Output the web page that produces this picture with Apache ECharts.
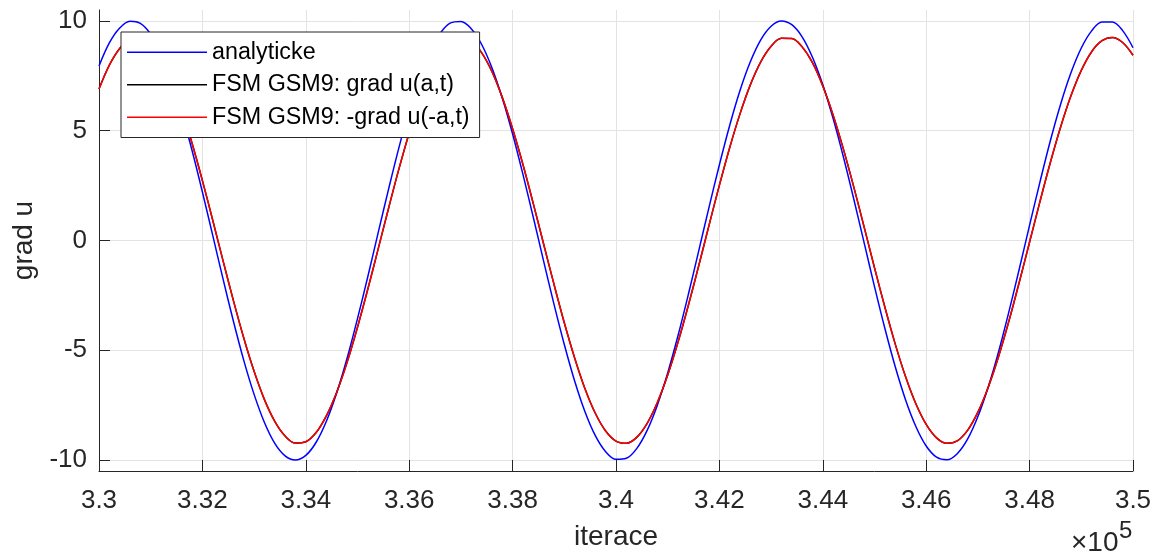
<!DOCTYPE html>
<html>
<head>
<meta charset="utf-8">
<script src="https://cdn.jsdelivr.net/npm/echarts@6/dist/echarts.min.js"></script>
<style>
  html, body { margin: 0; padding: 0; background: #fff; }
  #chart { width: 1158px; height: 556px; }
</style>
</head>
<body>
<div id="chart"></div>
<script>
// iterace (krok 200)
const iterace = [330000, 330200, 330400, 330600, 330800, 331000, 331200, 331400, 331600, 331800,
  332000, 332200, 332400, 332600, 332800, 333000, 333200, 333400, 333600, 333800,
  334000, 334200, 334400, 334600, 334800, 335000, 335200, 335400, 335600, 335800,
  336000, 336200, 336400, 336600, 336800, 337000, 337200, 337400, 337600, 337800,
  338000, 338200, 338400, 338600, 338800, 339000, 339200, 339400, 339600, 339800,
  340000, 340200, 340400, 340600, 340800, 341000, 341200, 341400, 341600, 341800,
  342000, 342200, 342400, 342600, 342800, 343000, 343200, 343400, 343600, 343800,
  344000, 344200, 344400, 344600, 344800, 345000, 345200, 345400, 345600, 345800,
  346000, 346200, 346400, 346600, 346800, 347000, 347200, 347400, 347600, 347800,
  348000, 348200, 348400, 348600, 348800, 349000, 349200, 349400, 349600, 349800, 350000];

// analyticke reseni
const analyticke = [7.95, 9.00, 9.68, 9.99, 9.89, 9.40, 8.54, 7.33, 5.83, 4.10,
  2.21, 0.23, -1.76, -3.68, -5.46, -7.01, -8.29, -9.24, -9.81, -10.00,
  -9.79, -9.19, -8.22, -6.92, -5.35, -3.56, -1.64, 0.36, 2.33, 4.22,
  5.94, 7.42, 8.60, 9.44, 9.91, 9.98, 9.65, 8.94, 7.87, 6.49,
  4.85, 3.01, 1.06, -0.94, -2.90, -4.74, -6.40, -7.80, -8.89, -9.62,
  -9.97, -9.92, -9.48, -8.66, -7.50, -6.03, -4.33, -2.45, -0.47, 1.52,
  3.45, 5.25, 6.84, 8.15, 9.14, 9.76, 10.00, 9.83, 9.28, 8.35,
  7.10, 5.55, 3.79, 1.88, -0.11, -2.10, -4.00, -5.74, -7.25, -8.47,
  -9.36, -9.87, -9.99, -9.71, -9.05, -8.02, -6.67, -5.06, -3.24, -1.30,
  0.70, 2.66, 4.53, 6.21, 7.64, 8.77, 9.55, 9.95, 9.95, 9.56, 8.78];

// FSM GSM9: grad u(a,t)
const gradPlus = [6.90, 7.99, 8.75, 9.17, 9.23, 8.91, 8.24, 7.24, 5.96, 4.43,
  2.73, 0.92, -0.93, -2.74, -4.44, -5.96, -7.25, -8.24, -8.91, -9.23,
  -9.17, -8.75, -7.98, -6.90, -5.54, -3.95, -2.21, -0.38, 1.46, 3.25,
  4.90, 6.36, 7.57, 8.48, 9.04, 9.25, 9.09, 8.56, 7.70, 6.52,
  5.09, 3.46, 1.68, -0.16, -1.99, -3.75, -5.35, -6.75, -7.87, -8.68,
  -9.14, -9.24, -8.97, -8.34, -7.38, -6.13, -4.63, -2.95, -1.15, 0.70,
  2.52, 4.24, 5.78, 7.10, 8.14, 8.85, 9.21, 9.20, 8.82, 8.10,
  7.04, 5.71, 4.15, 2.43, 0.61, -1.24, -3.03, -4.71, -6.20, -7.44,
  -8.38, -8.99, -9.24, -9.13, -8.65, -7.82, -6.68, -5.28, -3.67, -1.90,
  -0.07, 1.77, 3.54, 5.17, 6.59, 7.75, 8.60, 9.10, 9.25, 9.02, 8.44];

// FSM GSM9: -grad u(-a,t)  (kryje se s predchozi krivkou)
const gradMinus = [6.90, 7.99, 8.75, 9.17, 9.23, 8.91, 8.24, 7.24, 5.96, 4.43,
  2.73, 0.92, -0.93, -2.74, -4.44, -5.96, -7.25, -8.24, -8.91, -9.23,
  -9.17, -8.75, -7.98, -6.90, -5.54, -3.95, -2.21, -0.38, 1.46, 3.25,
  4.90, 6.36, 7.57, 8.48, 9.04, 9.25, 9.09, 8.56, 7.70, 6.52,
  5.09, 3.46, 1.68, -0.16, -1.99, -3.75, -5.35, -6.75, -7.87, -8.68,
  -9.14, -9.24, -8.97, -8.34, -7.38, -6.13, -4.63, -2.95, -1.15, 0.70,
  2.52, 4.24, 5.78, 7.10, 8.14, 8.85, 9.21, 9.20, 8.82, 8.10,
  7.04, 5.71, 4.15, 2.43, 0.61, -1.24, -3.03, -4.71, -6.20, -7.44,
  -8.38, -8.99, -9.24, -9.13, -8.65, -7.82, -6.68, -5.28, -3.67, -1.90,
  -0.07, 1.77, 3.54, 5.17, 6.59, 7.75, 8.60, 9.10, 9.25, 9.02, 8.44];

const xTicks = [330000, 332000, 334000, 336000, 338000, 340000, 342000, 344000, 346000, 348000, 350000];
const yTicks = [-10, -5, 0, 5, 10];
const names = ['analyticke', 'FSM GSM9: grad u(a,t)', 'FSM GSM9: -grad u(-a,t)'];

const font = "'Liberation Sans', Arial, Helvetica, sans-serif";
const axisColor = '#262626';
const gridColor = '#e3e3e3';

function pairs(ys) {
  return iterace.map((x, i) => [x, ys[i]]);
}

function lineSeries(name, ys, color) {
  return {
    name: name,
    type: 'line',
    data: pairs(ys),
    smooth: 0.35,
    symbol: 'none',
    sampling: 'none',
    lineStyle: { color: color, width: 1.5 },
    itemStyle: { color: color },
  };
}

const chart = echarts.init(document.getElementById('chart'));
chart.setOption({
  animation: false,
  backgroundColor: '#fff',
  textStyle: { fontFamily: font },
  grid: { left: 99, right: 25, top: 10, bottom: 84, containLabel: false },
  legend: {
    orient: 'vertical',
    left: 121,
    top: 32,
    data: names.map((n) => ({ name: n, icon: 'rect' })),
    itemWidth: 80,
    itemHeight: 1.5,
    itemGap: 0,
    padding: [4, 10, 4, 6],
    backgroundColor: '#fff',
    borderColor: axisColor,
    borderWidth: 1,
    borderRadius: 0,
    textStyle: { fontFamily: font, fontSize: 23.3, color: '#000', lineHeight: 27.5, padding: [5, 0, 0, 0] },
  },
  xAxis: {
    type: 'value',
    min: 330000,
    max: 350000,
    name: 'iterace',
    nameLocation: 'middle',
    nameGap: 52,
    nameTextStyle: { fontFamily: font, fontSize: 28, color: axisColor },
    axisLine: { onZero: false, lineStyle: { color: axisColor, width: 1 } },
    axisTick: { inside: true, length: 11, customValues: xTicks, lineStyle: { color: axisColor } },
    axisLabel: {
      customValues: xTicks,
      margin: 17,
      fontFamily: font,
      fontSize: 26,
      color: axisColor,
      formatter: (v) => String(Number((v / 100000).toFixed(2))),
    },
    splitLine: { show: true, lineStyle: { color: gridColor, width: 1 } },
  },
  yAxis: {
    type: 'value',
    min: -10.5,
    max: 10.5,
    name: 'grad u',
    nameLocation: 'middle',
    nameRotate: 90,
    nameGap: 58,
    nameTextStyle: { fontFamily: font, fontSize: 28, color: axisColor },
    axisLine: { show: true, onZero: false, lineStyle: { color: axisColor, width: 1 } },
    axisTick: { show: true, inside: true, length: 11, customValues: yTicks, lineStyle: { color: axisColor } },
    axisLabel: {
      customValues: yTicks,
      margin: 12,
      fontFamily: font,
      fontSize: 26,
      color: axisColor,
      padding: [8, 0, 0, 0],
    },
    splitLine: { show: true, lineStyle: { color: gridColor, width: 1 } },
  },
  graphic: [
    { type: 'text', x: 1071, y: 543, style: { text: '×10', fontFamily: font, fontSize: 28, fill: axisColor, verticalAlign: 'middle' } },
    { type: 'text', x: 1119, y: 531.5, style: { text: '5', fontFamily: font, fontSize: 24, fill: axisColor, verticalAlign: 'middle' } },
  ],
  series: [
    lineSeries(names[0], analyticke, '#0000ff'),
    lineSeries(names[1], gradPlus, '#000000'),
    lineSeries(names[2], gradMinus, '#ff0000'),
  ],
});
</script>
</body>
</html>
